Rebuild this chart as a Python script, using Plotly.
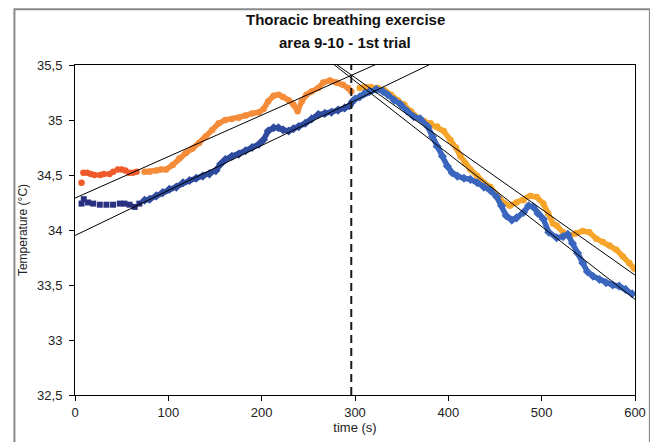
import numpy as np
import plotly.graph_objects as go

# ---------------- data ----------------
# upper series (orange) - phase 1 (red-orange), phase 2 (orange), phase 3 (amber)
orange1_t = [7, 9, 13, 17, 21, 27, 31, 37, 41, 46, 50, 54, 58, 62, 66]
orange1_T = [34.43, 34.52, 34.52, 34.51, 34.50, 34.50, 34.51, 34.51, 34.53, 34.55,
             34.55, 34.54, 34.52, 34.52, 34.53]

orange2_t = [74.5, 80, 87, 92, 97.5, 104.6, 111.7, 118.8, 125.9, 133, 140, 147, 154,
             161, 168, 175.5, 182.6, 189.7, 197, 202, 207, 212.8, 218, 223, 229, 234,
             238.6, 243, 248, 253.5, 260.6, 266, 273, 280, 287, 292.6, 296]
orange2_T = [34.53, 34.53, 34.54, 34.55, 34.55, 34.59, 34.65, 34.70, 34.74, 34.79, 34.85,
             34.91, 34.97, 35.00, 35.01, 35.02, 35.04, 35.06, 35.07, 35.10, 35.17, 35.22,
             35.23, 35.21, 35.18, 35.14, 35.08, 35.17, 35.23, 35.26, 35.29, 35.34, 35.36,
             35.34, 35.32, 35.29, 35.26]

orange3_t = [305, 310, 317, 324.5, 331.6, 338.6, 345.7, 352.8, 360, 367, 374, 381, 388,
             395, 402, 408, 413, 418, 423.7, 431, 438, 445, 452, 459, 466, 473, 480.5,
             487.6, 494.7, 501.8, 507, 512, 516, 523, 530, 537, 544, 551, 558.5, 565.6,
             572.7, 580, 587, 594, 599]
orange3_T = [35.29, 35.30, 35.30, 35.29, 35.27, 35.23, 35.18, 35.14, 35.08, 35.02, 34.99,
             34.97, 34.94, 34.90, 34.82, 34.75, 34.67, 34.61, 34.55, 34.49, 34.43, 34.39,
             34.31, 34.25, 34.22, 34.25, 34.27, 34.31, 34.30, 34.24, 34.15, 34.06, 34.04,
             33.98, 33.95, 33.97, 33.99, 33.98, 33.92, 33.89, 33.86, 33.82, 33.76, 33.70,
             33.65]

# lower series (blue) - phase 1 (navy), phase 2 (blue), phase 3 (light blue)
blue1_t = [7, 9.4, 14, 19.5, 26.6, 33.7, 40.8, 48, 53, 58.5, 64, 69]
blue1_T = [34.24, 34.28, 34.25, 34.24, 34.23, 34.23, 34.23, 34.24, 34.24, 34.23, 34.21, 34.24]

blue2_t = [74.5, 80, 87, 94, 101, 108.6, 115.7, 122.7, 129.8, 137, 144, 151, 156, 161,
           168, 175.5, 182.6, 189.7, 197, 202, 207, 212.8, 218, 223, 229, 234, 239.6,
           246.7, 253.5, 260.6, 267.7, 274.8, 281.9, 289, 294, 297.5]
blue2_T = [34.27, 34.28, 34.31, 34.34, 34.37, 34.39, 34.43, 34.45, 34.47, 34.49, 34.51,
           34.54, 34.60, 34.64, 34.67, 34.69, 34.72, 34.75, 34.78, 34.82, 34.90, 34.93,
           34.93, 34.91, 34.90, 34.92, 34.94, 34.97, 35.01, 35.05, 35.06, 35.07, 35.09,
           35.11, 35.13, 35.17]

blue3_t = [300, 305, 310, 315.6, 322.7, 330, 335, 342, 349, 356, 363, 370, 378, 383, 388,
           393.6, 399, 404, 409.6, 416.7, 423.7, 431, 438, 445, 452, 457, 462, 468, 473,
           480.5, 486, 491, 496, 501.8, 507.6, 516, 523, 528, 533, 538.5, 544, 549, 555,
           562, 569, 576, 583, 590, 597]
blue3_T = [35.19, 35.21, 35.24, 35.26, 35.28, 35.26, 35.23, 35.18, 35.14, 35.08, 35.03,
           35.01, 34.94, 34.85, 34.76, 34.67, 34.58, 34.52, 34.49, 34.47, 34.46, 34.43,
           34.39, 34.36, 34.30, 34.22, 34.13, 34.09, 34.11, 34.16, 34.22, 34.21, 34.15,
           34.10, 33.98, 33.93, 33.94, 33.96, 33.88, 33.79, 33.70, 33.62, 33.58, 33.55,
           33.52, 33.50, 33.49, 33.46, 33.42]

# linear trend lines: (intercept, slope)
trend_names = ["orange_up", "blue_up", "orange_down", "blue_down"]
trend_intercepts = [34.29, 33.95, 37.182, 37.339]
trend_slopes = [0.00377, 0.00409, -0.005987, -0.006615]

split_time = 296  # vertical dashed marker

x_ticks = [0, 100, 200, 300, 400, 500, 600]
y_tickvals = [32.5, 33, 33.5, 34, 34.5, 35, 35.5]
y_ticktext = ["32,5", "33", "33,5", "34", "34,5", "35", "35,5"]

title_lines = ["Thoracic breathing exercise", "area 9-10 - 1st trial"]

# ---------------- figure ----------------
FONT = "Arial, Liberation Sans, sans-serif"
fig = go.Figure()

# (t, T, colour, symbol, size, dense) - dense runs are drawn as a continuous band
series = [
    (orange1_t, orange1_T, "#EE5A2A", "circle", 6.5, False),
    (orange2_t, orange2_T, "#F58C3A", "circle", 6.5, True),
    (orange3_t, orange3_T, "#F7A52A", "circle", 6.5, True),
    (blue1_t, blue1_T, "#28307F", "square", 6, False),
    (blue2_t, blue2_T, "#2E4B9E", "diamond", 7, True),
    (blue3_t, blue3_T, "#3A66BE", "diamond", 7, True),
]
for t, T, c, sym, sz, dense in series:
    fig.add_trace(go.Scatter(x=t, y=T, mode="lines+markers" if dense else "markers",
                             line=dict(color=c, width=5.5),
                             marker=dict(color=c, size=sz, symbol=sym, line=dict(width=0)),
                             showlegend=False, hoverinfo="skip"))

xs = np.array([0, 600])
for b, m in zip(trend_intercepts, trend_slopes):
    fig.add_trace(go.Scatter(x=xs, y=b + m * xs, mode="lines",
                             line=dict(color="black", width=1),
                             showlegend=False, hoverinfo="skip"))

fig.add_trace(go.Scatter(x=[split_time, split_time], y=[32.5, 35.5], mode="lines",
                         line=dict(color="#1a1a1a", width=2, dash="8px,5px"),
                         showlegend=False, hoverinfo="skip"))

# page has an 8px body margin, so the figure is 8px smaller than the window
W, H = 650, 434
L, R, T_, B = 67, 19, 57, 43
pw, ph = W - L - R, H - T_ - B
fig.add_shape(type="rect", xref="paper", yref="paper",
              x0=(6 - L) / pw, x1=(646 - L) / pw,
              y0=(H - B - 440) / ph, y1=(H - B - 0.5) / ph,
              line=dict(color="#8a8a8a", width=2), layer="below")

for txt, fy in zip(title_lines, [11, 34]):
    fig.add_annotation(text=f"<b>{txt}</b>", xref="paper", yref="paper",
                       x=(339 - L) / pw, y=(H - B - fy) / ph,
                       xanchor="center", yanchor="middle", showarrow=False,
                       font=dict(family=FONT, size=15, color="#111"))

fig.update_layout(
    width=W, height=H,
    margin=dict(l=L, r=R, t=T_, b=B),
    paper_bgcolor="white", plot_bgcolor="white",
    font=dict(family=FONT, size=13, color="#222"),
    xaxis=dict(range=[0, 600], tickvals=x_ticks, showgrid=False, zeroline=False,
               showline=True, linecolor="black", linewidth=1, mirror=True,
               ticks="outside", ticklen=5, tickcolor="black",
               title=dict(text="time (s)", standoff=1, font=dict(size=13))),
    yaxis=dict(range=[32.5, 35.5], tickvals=y_tickvals, ticktext=y_ticktext,
               showgrid=False, zeroline=False, ticklabelstandoff=4,
               showline=True, linecolor="black", linewidth=1, mirror=True,
               ticks="outside", ticklen=5, tickcolor="black",
               title=dict(text="Temperature (°C)", standoff=6, font=dict(size=12))),
)

fig.write_html("out.html")
